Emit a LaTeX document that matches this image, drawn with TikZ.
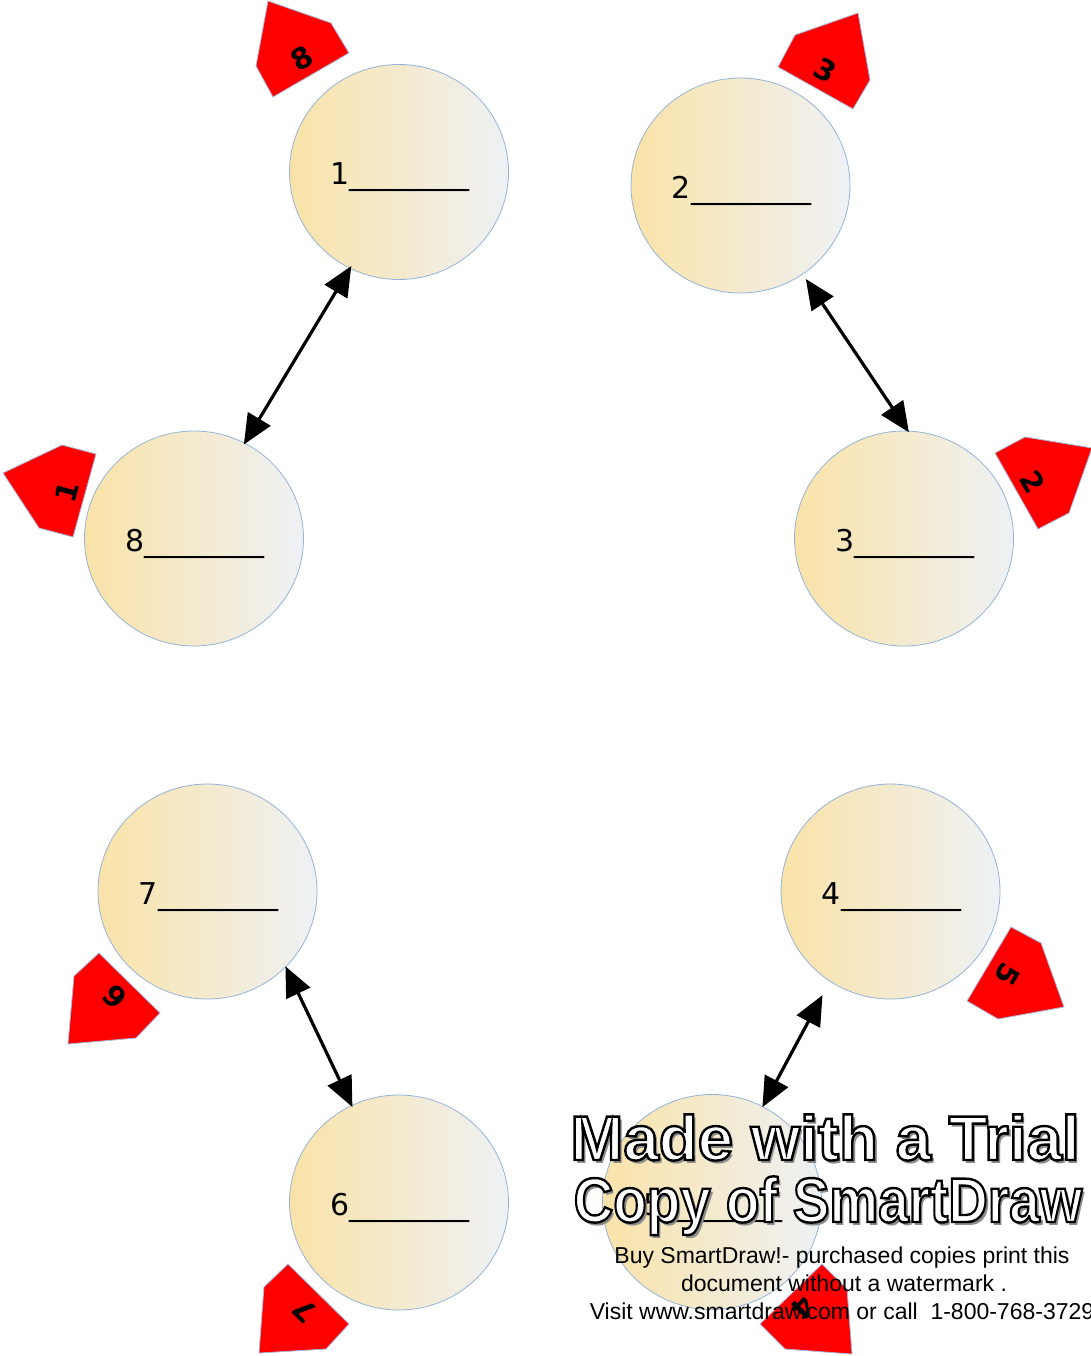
\documentclass[tikz,border=0pt]{standalone}
\usepackage{fontspec}
\setmainfont{DejaVu Sans}
\newfontfamily\wmfont{Liberation Sans}
\usetikzlibrary{shapes.geometric,arrows.meta}
\definecolor{cleft}{RGB}{250,227,168}
\definecolor{cright}{RGB}{238,241,245}
\definecolor{cedge}{RGB}{149,179,215}
\definecolor{tagedge}{RGB}{165,185,220}
\definecolor{wmshadow}{RGB}{140,140,140}
\newcommand{\outlinetext}[1]{\special{pdf:literal direct 2 Tr 2.4 w 0 G}#1\special{pdf:literal direct 0 Tr}}
\begin{document}
\begin{tikzpicture}[x=1pt,y=-1pt,
  bubble/.style={ellipse, minimum width=219pt, minimum height=215pt, inner sep=0pt,
    draw=cedge, line width=0.8pt, left color=cleft, right color=cright},
  blank/.style={anchor=base, font=\fontsize{30}{36}\selectfont, inner sep=0pt},
  link/.style={line width=3.2pt, {Triangle[length=30pt,width=26pt]}-{Triangle[length=30pt,width=26pt]}},
  tag/.style={fill=red, draw=tagedge, line width=0.8pt, line join=miter},
  tagnum/.style={font=\bfseries\fontsize{29}{32}\selectfont, inner sep=0pt},
  wmtitle/.style={anchor=base, inner sep=0pt, font=\wmfont\bfseries\fontsize{63}{70}\selectfont},
  wmsmall/.style={anchor=base, inner sep=0pt, font=\wmfont\fontsize{23}{27}\selectfont}
]
\useasboundingbox (0,0) rectangle (1091,1356);

% circles
\node[bubble] (c1) at (399,172) {};
\node[bubble] (c2) at (740.5,185.5) {};
\node[bubble] (c3) at (904,538.5) {};
\node[bubble] (c4) at (890.5,891.5) {};
\node[bubble] (c5) at (712,1202) {};
\node[bubble] (c6) at (399,1202.5) {};
\node[bubble] (c7) at (207.5,891.5) {};
\node[bubble] (c8) at (194,538.5) {};

% blanks
\node[blank] (t1) at (400,185) {1\_\_\_\_\_\_\_\_};
\node[blank] (t2) at (741.5,198.5) {2\_\_\_\_\_\_\_\_};
\node[blank] (t3) at (905,551.5) {3\_\_\_\_\_\_\_\_};
\node[blank] (t4) at (891.5,904.5) {4\_\_\_\_\_\_\_\_};
\node[blank] (t5) at (713,1215) {5\_\_\_\_\_\_\_\_};
\node[blank] (t6) at (400,1215.5) {6\_\_\_\_\_\_\_\_};
\node[blank] (t7) at (208.5,904.5) {7\_\_\_\_\_\_\_\_};
\node[blank] (t8) at (195,551.5) {8\_\_\_\_\_\_\_\_};

% connectors
\draw[link, shorten <=-3pt, shorten >=-2pt] (c1.243.2) -- (c8.62.8);
\draw[link, shorten <=5.5pt, shorten >=-2pt] (c2.305.7) -- (c3.88.9);
\draw[link, shorten <=-1pt, shorten >=-2pt] (c7.316.9) -- (c6.116.7);
\draw[link, shorten <=15.5pt, shorten >=-1pt] (c4.236.9) -- (c5.62.5);

% red tags
\path[tag] (268,1) -- (331,23) -- (349,53) -- (273,97) -- (256,66) -- cycle;
\node[tagnum, rotate=30] (n8) at (302,58) {8};
\path[tag] (858,13) -- (870,80) -- (853,109) -- (778,67) -- (795,35) -- cycle;
\node[tagnum, rotate=-29.5] (n3) at (825,70) {3};
\path[tag] (1025,437) -- (1092,448) -- (1069,513) -- (1038,529) -- (995,453) -- cycle;
\node[tagnum, rotate=-60] (n2) at (1033,482) {2};
\path[tag] (1011,927) -- (1041,943) -- (1064,1007) -- (998,1019) -- (967,1001) -- cycle;
\node[tagnum, rotate=-120] (n5) at (1007,974) {5};
\path[tag] (99,953) -- (160,1013) -- (136,1038) -- (68,1044) -- (74,976) -- cycle;
\node[tagnum, rotate=135] (n6) at (115,997) {6};
\path[tag] (288,1264) -- (349,1324) -- (326,1349) -- (259,1353) -- (264,1287) -- cycle;
\node[tagnum, rotate=135] (n7) at (305,1311) {7};
\path[tag] (822,1264) -- (847,1289) -- (852,1354) -- (785,1349) -- (760,1324) -- cycle;
\node[tagnum, rotate=-134.5] (n4) at (803,1308) {4};
\path[tag] (3,473) -- (62,445) -- (96,454) -- (73,537) -- (39,528) -- cycle;
\node[tagnum, rotate=74.6] (n1) at (67,492) {1};

% watermark
\node[wmtitle, xscale=1.01, text=wmshadow] (w1s) at (828,1163) {Made with a Trial};
\node[wmtitle, xscale=0.87, text=wmshadow] (w2s) at (831,1225) {Copy of SmartDraw};
\node[wmtitle, xscale=1.01, text=white] (w1) at (825,1160) {\outlinetext{Made with a Trial}};
\node[wmtitle, xscale=0.87, text=white] (w2) at (828,1222) {\outlinetext{Copy of SmartDraw}};
\node[wmsmall] (b1) at (842,1263) {Buy SmartDraw!- purchased copies print this};
\node[wmsmall] (b2) at (844,1291) {document without a watermark .};
\node[wmsmall] (b3) at (842,1319) {Visit www.smartdraw.com or call\ \ 1-800-768-3729};
\end{tikzpicture}
\end{document}
